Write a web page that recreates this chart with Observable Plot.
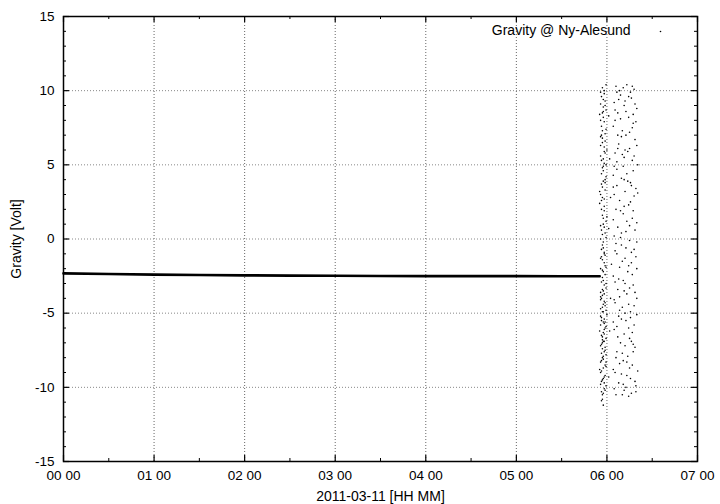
<!DOCTYPE html>
<html>
<head>
<meta charset="utf-8">
<script src="https://cdn.jsdelivr.net/npm/d3@7"></script>
<script src="https://cdn.jsdelivr.net/npm/@observablehq/plot@0.6"></script>
<style>
  html, body { margin: 0; padding: 0; background: white; }
</style>
</head>
<body>
<div id="chart"></div>
<script>
// ---- data ----
const xMajor = [0, 1, 2, 3, 4, 5, 6, 7];
const xTickLabels = ["00 00", "01 00", "02 00", "03 00", "04 00", "05 00", "06 00", "07 00"];
const xMinor = [0.5, 1.5, 2.5, 3.5, 4.5, 5.5, 6.5];
const yMajor = [-15, -10, -5, 0, 5, 10, 15];
const yTickLabels = ["-15", "-10", "-5", "0", "5", "10", "15"];
const yMinor = [-14, -13, -12, -11, -9, -8, -7, -6, -4, -3, -2, -1, 1, 2, 3, 4, 6, 7, 8, 9, 11, 12, 13, 14];
const xGrid = [1, 2, 3, 4, 5, 6];
const yGrid = [-10, -5, 0, 5, 10];

// steady signal (hours, volts)
const lineHours  = [0, 0.5, 1, 1.5, 2, 2.5, 3, 3.5, 4, 4.5, 5, 5.5, 5.92];
const lineValues = [-2.32, -2.36, -2.40, -2.43, -2.45, -2.47, -2.48, -2.49, -2.50, -2.50, -2.50, -2.51, -2.51];

// noisy part, dense column (hours, volts)
const denseColumn = [
  [5.95,10.2],[5.97,9.8],[5.93,9.1],[5.99,8.7],[5.96,8.2],[5.94,7.6],[5.98,7.1],[5.95,6.5],[6.00,6.0],[5.93,5.6],
  [5.97,5.1],[5.96,4.6],[5.99,4.2],[5.94,3.7],[5.98,3.3],[5.95,2.8],[5.92,2.4],[5.97,1.9],[6.00,1.5],[5.96,1.0],
  [5.94,0.6],[5.99,0.1],[5.95,-0.4],[5.97,-0.9],[5.93,-1.3],[5.98,-1.8],[5.96,-2.2],[5.94,-2.9],[5.99,-3.3],[5.95,-3.8],
  [5.97,-4.2],[5.93,-4.7],[6.00,-5.1],[5.96,-5.6],[5.98,-6.0],[5.94,-6.5],[5.97,-6.9],[5.95,-7.4],[5.99,-7.8],[5.93,-8.3],
  [5.96,-8.7],[5.98,-9.2],[5.94,-9.6],[5.97,-10.1],[5.95,-10.5],[5.96,-11.2],
  [5.94,9.6],[5.98,9.3],[5.96,8.9],[5.93,8.0],[5.99,7.4],[5.95,6.8],[5.97,6.2],[5.94,5.3],[5.96,4.9],[5.98,4.0],
  [5.95,3.5],[5.93,3.0],[5.97,2.2],[5.99,1.2],[5.95,0.3],[5.96,-0.2],[5.94,-0.7],[5.98,-1.1],[5.97,-1.6],[5.93,-2.0],
  [5.95,-2.6],[5.99,-3.0],[5.96,-3.5],[5.94,-4.0],[5.98,-4.5],[5.95,-4.9],[5.97,-5.4],[5.93,-5.8],[5.96,-6.3],[5.99,-6.7],
  [5.94,-7.1],[5.97,-7.6],[5.95,-8.0],[5.98,-8.5],[5.93,-9.0],[5.96,-9.4],[5.99,-9.9],[5.94,-10.3],
  [5.97,10.0],[5.95,8.5],[5.93,6.9],[5.98,5.8],[5.96,3.9],[5.94,2.0],[5.97,0.8],[5.95,-1.4],[5.98,-2.4],[5.93,-3.6],
  [5.96,-4.4],[5.94,-5.3],[5.97,-6.1],[5.95,-6.6],[5.98,-7.3],[5.96,-8.1],[5.94,-8.9],[5.97,-9.7],[5.95,-10.8],[5.99,-4.8],
  [5.93,-3.9],[5.97,-5.7],[5.95,-7.0],[5.96,-2.8],
  [5.93,9.9],[5.96,9.4],[5.99,10.4],[5.92,8.4],[5.97,7.9],[5.95,7.3],[5.93,6.3],[5.98,6.6],[5.96,5.4],[5.94,4.4],
  [5.99,5.0],[5.92,3.2],[5.97,2.7],[5.95,1.6],[5.93,0.9],[5.98,0.4],[5.96,-0.6],[5.94,-1.2],[5.99,-1.9],[5.92,-2.5],
  [5.97,-3.1],[5.95,-3.4],[5.93,-4.1],[5.98,-4.3],[5.96,-4.9],[5.94,-5.5],[5.99,-5.9],[5.92,-6.2],[5.97,-6.4],[5.95,-6.8],
  [5.93,-7.2],[5.98,-7.5],[5.96,-7.9],[5.94,-8.2],[5.99,-8.6],[5.92,-8.8],[5.97,-9.3],[5.95,-9.5],[5.93,-9.8],[5.98,-10.2],
  [5.96,-10.4],[5.94,-10.9],[5.97,-3.7],[5.95,-4.6],[5.93,-5.2],[5.98,-5.6],[5.96,-6.9],[5.94,-7.7],[5.99,-8.3],[5.95,-2.1],
  [5.97,-1.0],[5.93,0.0],[5.96,1.4],[5.94,2.6],[5.98,3.8],[5.95,4.8],[5.97,5.9],[5.94,7.0],[5.96,8.6],[5.98,9.0]
];

// noisy part, scattered column (hours, volts)
const sparseColumn = [
  [6.10,10.3],[6.22,10.4],[6.30,10.1],[6.15,9.7],[6.27,9.5],[6.08,9.2],[6.19,9.0],[6.33,8.8],[6.12,8.5],[6.24,8.2],
  [6.29,7.8],[6.07,7.6],[6.17,7.3],[6.21,7.0],[6.31,6.7],[6.13,6.4],[6.25,6.1],[6.09,5.8],[6.19,5.5],[6.28,5.3],
  [6.34,5.0],[6.11,4.7],[6.22,4.4],[6.16,4.1],[6.26,3.8],[6.07,3.5],[6.20,3.2],[6.30,2.9],[6.14,2.6],[6.24,2.3],
  [6.10,2.0],[6.18,1.7],[6.28,1.4],[6.33,1.1],[6.12,0.8],[6.21,0.5],[6.08,0.2],[6.25,-0.1],[6.16,-0.4],[6.30,-0.7],
  [6.11,-1.0],[6.20,-1.3],[6.27,-1.6],[6.14,-1.9],[6.23,-2.2],[6.07,-2.5],[6.18,-2.8],[6.29,-3.1],[6.12,-3.4],[6.22,-3.7],
  [6.33,-4.0],[6.09,-4.3],[6.17,-4.6],[6.26,-4.9],[6.13,-5.2],[6.21,-5.5],[6.30,-5.8],[6.08,-6.1],[6.19,-6.4],[6.25,-6.7],
  [6.15,-7.0],[6.31,-7.3],[6.11,-7.6],[6.23,-7.9],[6.18,-8.2],[6.28,-8.5],[6.07,-8.8],[6.16,-9.1],[6.26,-9.4],[6.13,-9.7],
  [6.21,-10.0],[6.32,-10.3],[6.10,-10.5],[6.24,-10.6],
  [6.18,10.2],[6.26,9.9],[6.13,9.4],[6.31,9.1],[6.21,8.6],[6.09,8.0],[6.28,7.5],[6.16,6.9],[6.33,6.3],[6.23,5.9],
  [6.11,5.2],[6.29,4.6],[6.19,4.0],[6.32,3.4],[6.08,3.0],[6.26,2.5],[6.15,1.9],[6.22,1.2],[6.31,0.6],[6.10,-0.3],
  [6.27,-0.9],[6.17,-1.5],[6.33,-2.0],[6.09,-2.9],[6.25,-3.3],[6.14,-3.9],[6.30,-4.5],[6.20,-5.0],[6.07,-5.6],[6.24,-6.0],
  [6.12,-6.6],[6.29,-7.1],[6.17,-7.7],[6.22,-8.3],[6.09,-9.0],[6.31,-9.6],[6.19,-10.2],[6.27,-10.4],
  [6.24,9.6],[6.12,7.0],[6.20,6.0],[6.27,3.6],[6.15,0.1],[6.24,-1.8],[6.20,-3.0],[6.14,-4.8],[6.28,-6.3],[6.18,-9.8],
  [6.11,9.9],[6.29,8.4],[6.17,5.7],[6.07,4.3],[6.32,-1.2],[6.26,-5.3],[6.10,-8.0],[6.34,-8.9],
  [6.14,10.0],[6.28,10.3],[6.20,9.3],[6.09,8.7],[6.32,7.9],[6.15,8.1],[6.25,7.2],[6.12,6.1],[6.30,5.6],[6.18,4.9],
  [6.08,4.9],[6.23,3.9],[6.34,3.1],[6.11,3.6],[6.19,2.2],[6.29,1.9],[6.07,1.3],[6.25,0.9],[6.16,0.4],[6.33,-0.2],
  [6.09,-0.8],[6.21,-0.6],[6.28,-2.4],[6.13,-2.7],[6.19,-3.5],[6.31,-3.6],[6.08,-4.1],[6.24,-4.4],[6.16,-5.4],[6.33,-5.1],
  [6.11,-5.9],[6.27,-6.9],[6.20,-7.2],[6.14,-8.4],[6.25,-8.7],[6.32,-9.9],[6.08,-10.1],[6.17,-10.5],[6.22,-9.2],[6.29,-7.6],
  [6.02,8.3],[6.03,-6.2],[6.04,2.8],[6.02,-9.3],[6.03,5.4],[6.05,-1.7],[6.04,-4.0],[6.02,0.7]
];

const legendLabel = "Gravity @ Ny-Alesund";
const xLabel = "2011-03-11 [HH MM]";
const yLabel = "Gravity [Volt]";

// ---- chart ----
const W = 720, H = 504;
const mL = 63, mR = 23, mT = 16, mB = 43;
const innerH = H - mT - mB;
const innerW = W - mL - mR;
const FS = 14;

const lineData = lineHours.map((h, i) => ({h, v: lineValues[i]}));
const scatter = denseColumn.concat(sparseColumn);

const chart = Plot.plot({
  width: W,
  height: H,
  marginLeft: mL,
  marginRight: mR,
  marginTop: mT,
  marginBottom: mB,
  style: {fontFamily: "'Liberation Sans', Arial, sans-serif", fontSize: "13.5px", background: "white", color: "black"},
  x: {
    domain: [0, 7],
    ticks: xMajor,
    tickFormat: d => xTickLabels[xMajor.indexOf(d)],
    tickSize: 0,
    tickPadding: 9,
    label: null
  },
  y: {
    domain: [-15, 15],
    ticks: yMajor,
    tickFormat: d => yTickLabels[yMajor.indexOf(d)],
    tickSize: 0,
    tickPadding: 9,
    label: null
  },
  marks: [
    Plot.ruleX(xGrid, {stroke: "#666", strokeWidth: 1, strokeDasharray: "1,2"}),
    Plot.ruleY(yGrid, {stroke: "#888", strokeWidth: 1, strokeDasharray: "1,2"}),
    // major ticks on all sides
    Plot.tickX(xMajor, {x: d => d, insetTop: innerH - 6, stroke: "black", strokeWidth: 1.2}),
    Plot.tickX(xMajor, {x: d => d, insetBottom: innerH - 6, stroke: "black", strokeWidth: 1.2}),
    Plot.tickY(yMajor, {y: d => d, insetRight: innerW - 6, stroke: "black", strokeWidth: 1.2}),
    Plot.tickY(yMajor, {y: d => d, insetLeft: innerW - 6, stroke: "black", strokeWidth: 1.2}),
    // minor ticks
    Plot.tickX(xMinor, {x: d => d, insetTop: innerH - 3, stroke: "black", strokeWidth: 1}),
    Plot.tickX(xMinor, {x: d => d, insetBottom: innerH - 3, stroke: "black", strokeWidth: 1}),
    Plot.tickY(yMinor, {y: d => d, insetRight: innerW - 3, stroke: "black", strokeWidth: 1}),
    Plot.tickY(yMinor, {y: d => d, insetLeft: innerW - 3, stroke: "black", strokeWidth: 1}),
    // data
    Plot.line(lineData, {x: "h", y: "v", stroke: "black", strokeWidth: 2.6}),
    Plot.dot(scatter, {x: d => d[0], y: d => d[1], r: 0.8, fill: "black", stroke: null}),
    // legend
    Plot.text([legendLabel], {text: d => d, frameAnchor: "top-right", dx: -67, dy: 14, textAnchor: "end", lineAnchor: "middle", fontSize: FS, fill: "black"}),
    Plot.dot([legendLabel], {frameAnchor: "top-right", dx: -37, dy: 15, r: 0.8, fill: "black", stroke: null}),
    // axis titles
    Plot.text([xLabel], {text: d => d, frameAnchor: "bottom", dy: 35, textAnchor: "middle", lineAnchor: "middle", fontSize: FS, fill: "black"}),
    Plot.text([yLabel], {text: d => d, frameAnchor: "left", dx: -47, rotate: -90, textAnchor: "middle", lineAnchor: "middle", fontSize: FS, fill: "black"}),
    Plot.frame({stroke: "black", strokeWidth: 1.5})
  ]
});

document.getElementById("chart").appendChild(chart);
</script>
</body>
</html>
